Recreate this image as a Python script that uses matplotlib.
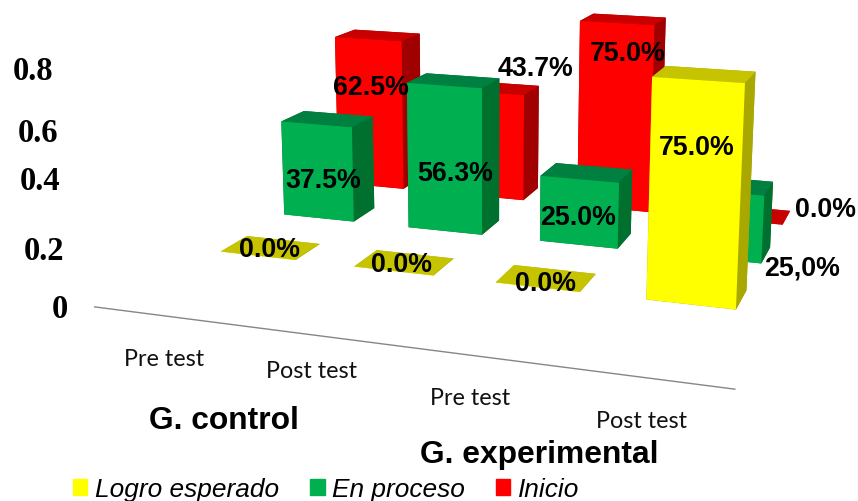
import matplotlib
matplotlib.use("Agg")
import matplotlib.pyplot as plt
from matplotlib.patches import Patch

# Data
groups = ["Pre test", "Post test", "Pre test", "Post test"]
group_titles = ["G. control", "G. experimental"]
series_names = ["Logro esperado", "En proceso", "Inicio"]
logro = [0.0, 0.0, 0.0, 0.75]
proceso = [0.375, 0.563, 0.25, 0.25]
inicio = [0.625, 0.437, 0.75, 0.0]
logro_labels = ["0.0%", "0.0%", "0.0%", "75.0%"]
proceso_labels = ["37.5%", "56.3%", "25.0%", "25,0%"]
inicio_labels = ["62.5%", "43.7%", "75.0%", "0.0%"]
axis_ticks = ["0.8", "0.6", "0.4", "0.2", "0"]

W, H = 858, 502
BAR_W, BAR_D = 0.5663, 0.3926
S, CX, CY = 541.18, 512.29, 365.72


def px(x, y):
    # reference pixel -> figure fraction
    return x / W, 1 - y / H


fig = plt.figure(figsize=(W / 100, H / 100), dpi=100)
ax = fig.add_axes([(CX - S / 2) / W, (CY - S / 2) / H, S / W, S / H], projection="3d",
                  proj_type="persp", focal_length=0.5176)
ax.computed_zorder = False
ax.view_init(elev=13.143, azim=-71.939, roll=-0.305)
ax.set_box_aspect((4, 2.8701, 1.52), zoom=1.3)
ax.set_xlim(0, 4)
ax.set_ylim(0, 3)
ax.set_zlim(0, 0.8)
ax.set_axis_off()

# colours: front, side, top (back row first so nearer bars cover it)
rows = [
    (2, inicio, ("#FF0000", "#A00000", "#C80000")),
    (1, proceso, ("#00B050", "#00702F", "#008040")),
    (0, logro, ("#FFFF00", "#A8A800", "#C6C400")),
]
order = 1
for row, vals, (front, side, top) in rows:
    for i, v in enumerate(vals):
        bar = ax.bar3d(i + 0.5 - BAR_W / 2, row + 0.5 - BAR_D / 2, 0, BAR_W, BAR_D, max(v, 0.001),
                       color=[side, top, front, side, side, side], shade=False, zorder=order)
        bar.set_clip_on(False)
        order += 1

# floor line
ax.plot([0.03, 4.0], [-0.99, -0.99], [0, 0], color="#868686", lw=1, zorder=0, clip_on=False)

# value labels
label_font = dict(family="Liberation Sans", fontweight="bold", fontsize=19.3, color="black",
                  ha="center", va="center", zorder=100)
logro_pos = [(270, 250), (401, 265), (545, 284), (697, 148)]
proceso_pos = [(323, 181), (455, 174), (578, 218), (802, 269)]
inicio_pos = [(371, 88), (536, 69), (628, 54), (826, 210)]
for labels, positions in ((logro_labels, logro_pos), (proceso_labels, proceso_pos), (inicio_labels, inicio_pos)):
    for text, pos in zip(labels, positions):
        fig.text(*px(*pos), text, **label_font)

# value axis, unevenly spaced in the original
tick_pos = [(33, 71), (38, 133), (40, 181), (44, 251), (60, 310)]
for text, pos in zip(axis_ticks, tick_pos):
    fig.text(*px(*pos), text, family="Liberation Serif", fontweight="bold", fontsize=23.5,
             ha="center", va="center")

# categories
group_pos = [(164, 360), (312, 372), (470, 399), (641, 421)]
for text, pos in zip(groups, group_pos):
    fig.text(*px(*pos), text, family="Lato", fontsize=16.8, color="#111111", ha="center", va="center")

title_pos = [(224, 421), (539, 455)]
for text, pos in zip(group_titles, title_pos):
    fig.text(*px(*pos), text, family="Liberation Sans", fontweight="bold", fontsize=22.9,
             ha="center", va="center")

# legend
handles = [Patch(color=c) for c in ("#FFFF00", "#00B050", "#FF0000")]
fig.legend(handles, series_names, loc="lower left", bbox_to_anchor=px(73, 502), ncol=3, frameon=False,
           borderpad=0, borderaxespad=0, handlelength=0.55, handleheight=0.55, handletextpad=0.27,
           columnspacing=1.2, prop=dict(family="Liberation Sans", style="italic", size=18.9))

plt.savefig("out.png", dpi=100)
